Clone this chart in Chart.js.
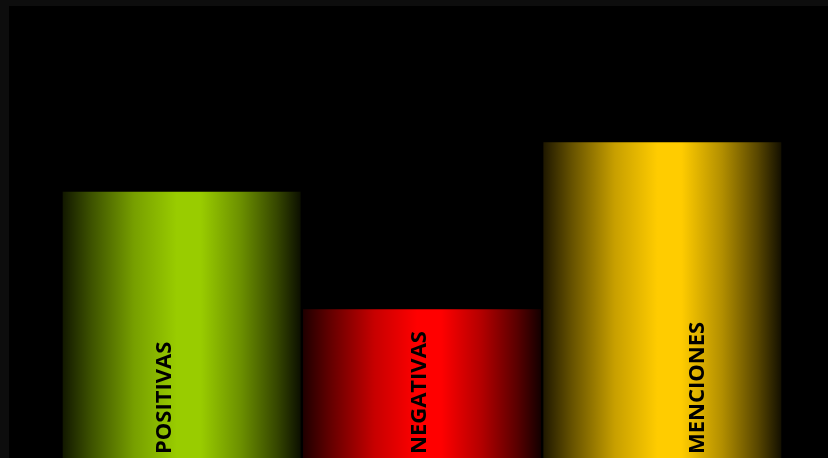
<!DOCTYPE html>
<html>
<head>
<meta charset="utf-8">
<script src="https://cdn.jsdelivr.net/npm/chart.js@4.4.1/dist/chart.umd.min.js"></script>
<style>
  html, body { margin: 0; padding: 0; background: #0d0d0d; overflow: hidden; width: 828px; height: 458px; }
  #wrap { position: absolute; left: 9px; top: 6px; width: 819px; height: 480px; background: #000; }
  canvas { display: block; }
</style>
</head>
<body>
<div id="wrap"><canvas id="c" width="819" height="480"></canvas></div>
<script>
const categories = ['POSITIVAS', 'NEGATIVAS', 'MENCIONES'];
const values = [60.9, 35.4, 71.7];
const barColors = [[153, 204, 0], [255, 0, 0], [255, 204, 0]];

// horizontal shading: [position, brightness]
const shade = [[0, 0.12], [0.12, 0.4], [0.3, 0.78], [0.48, 1], [0.58, 1], [0.75, 0.7], [0.9, 0.35], [1, 0.08]];
const barPct = 0.99;
const labelOffsets = [-16.5, -2, 35.5];

function barGradient(ctx) {
  const chart = ctx.chart;
  const xs = chart.scales.x;
  const base = barColors[ctx.dataIndex % barColors.length];
  if (!xs || !chart.chartArea) return `rgb(${base.join(',')})`;
  const center = xs.getPixelForValue(ctx.dataIndex);
  const half = (xs.width / categories.length) * barPct / 2;
  const g = chart.ctx.createLinearGradient(center - half, 0, center + half, 0);
  shade.forEach(([p, b]) => {
    g.addColorStop(p, `rgb(${base.map(v => Math.round(v * b)).join(',')})`);
  });
  return g;
}

const labelPlugin = {
  id: 'barLabels',
  afterDatasetsDraw(chart) {
    const { ctx } = chart;
    const meta = chart.getDatasetMeta(0);
    ctx.save();
    ctx.font = "700 22px 'Open Sans', sans-serif";
    ctx.fillStyle = '#000';
    ctx.textAlign = 'left';
    ctx.textBaseline = 'middle';
    meta.data.forEach((bar, i) => {
      ctx.save();
      ctx.translate(bar.x + labelOffsets[i], 448);
      ctx.rotate(-Math.PI / 2);
      ctx.fillText(categories[i], 0, 0);
      ctx.restore();
    });
    ctx.restore();
  }
};

new Chart(document.getElementById('c'), {
  type: 'bar',
  data: {
    labels: categories,
    datasets: [{
      data: values,
      backgroundColor: barGradient,
      borderWidth: 0,
      barPercentage: barPct,
      categoryPercentage: 1
    }]
  },
  options: {
    responsive: false,
    animation: false,
    layout: { padding: { left: 52.5, right: 45.5, top: 6, bottom: 14 } },
    plugins: { legend: { display: false }, tooltip: { enabled: false }, title: { display: false } },
    scales: {
      x: { display: false },
      y: { display: false, min: 0, max: 100 }
    }
  },
  plugins: [labelPlugin]
});
</script>
</body>
</html>
